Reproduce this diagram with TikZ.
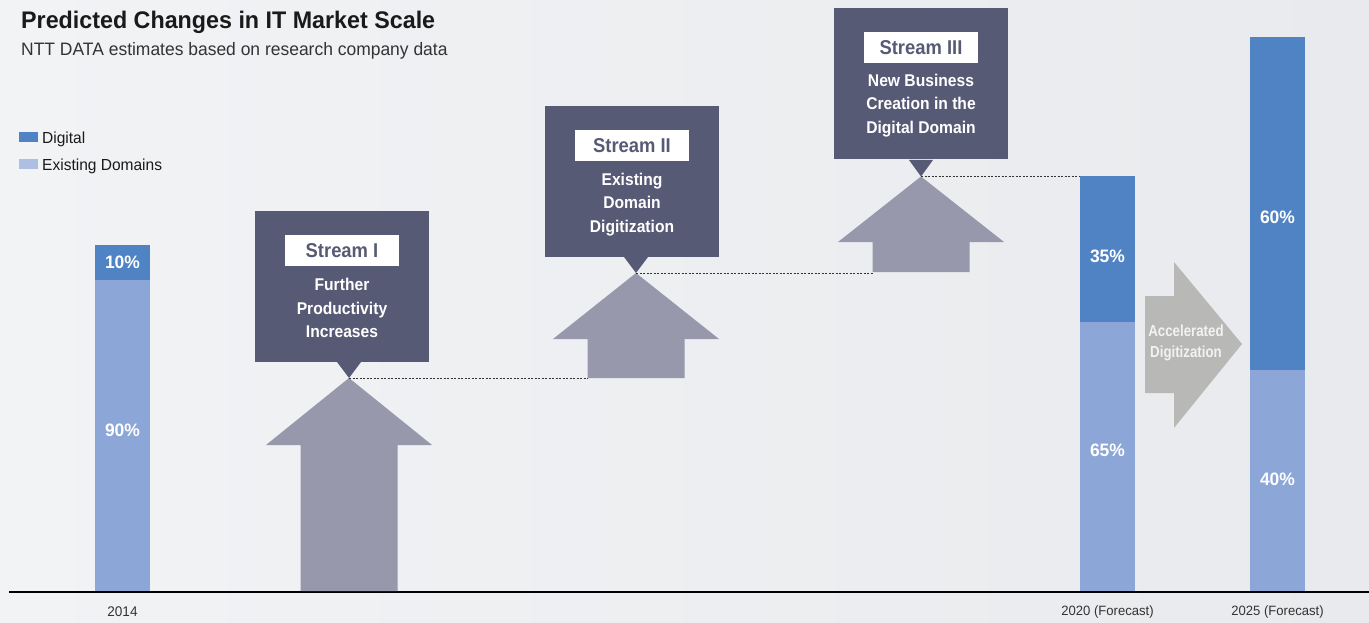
\documentclass[tikz,border=0pt]{standalone}
\usepackage{fontspec}
\setmainfont{Liberation Sans}[FakeStretch=0.97]
\newfontfamily\condfont{Liberation Sans}[FakeStretch=0.92]
\newfontfamily\narrowfont{Liberation Sans}[FakeStretch=0.83]
\definecolor{digital}{HTML}{4F83C4}
\definecolor{existing}{HTML}{8CA6D7}
\definecolor{existinglegend}{HTML}{AEBFE3}
\definecolor{boxcol}{HTML}{575A75}
\definecolor{arrowcol}{HTML}{9798AC}
\definecolor{accelcol}{HTML}{B8B9B7}
\definecolor{bgL}{HTML}{F1F3F5}
\definecolor{bgR}{HTML}{E8EAED}
\definecolor{titlecol}{HTML}{1A1A1A}
\definecolor{subcol}{HTML}{333333}
\begin{document}
\begin{tikzpicture}[x=1pt,y=-1pt,
  bar/.style={inner sep=0pt, outer sep=0pt, minimum width=55pt, anchor=north west},
  dig/.style={bar, fill=digital},
  old/.style={bar, fill=existing},
  pct/.style={text=white, inner sep=0pt, font=\bfseries\fontsize{18}{20}\selectfont},
  callout/.style={fill=boxcol, inner sep=0pt, outer sep=0pt, minimum width=174pt, minimum height=151pt, anchor=north west},
  tag/.style={fill=white, text=boxcol, inner sep=0pt, minimum width=114pt, minimum height=31pt, font=\condfont\bfseries\fontsize{20}{22}\selectfont},
  desc/.style={text=white, align=center, inner sep=0pt, font=\condfont\bfseries\fontsize{17}{23.5}\selectfont},
  growth/.style={fill=arrowcol},
  guide/.style={draw=black!80, line width=0.9pt, dash pattern=on 2pt off 1.5pt},
  year/.style={text=subcol, inner sep=0pt, font=\fontsize{14}{16}\selectfont},
  swatch/.style={inner sep=0pt, minimum width=19pt, minimum height=10pt},
  legtext/.style={text=titlecol, inner sep=0pt, anchor=base west, font=\fontsize{16}{18}\selectfont}
]
\useasboundingbox (0,0) rectangle (1369,623);
% background
\shade[left color=bgL, right color=bgR] (0,0) rectangle (1369,623);

% title block
\node[anchor=base west, inner sep=0pt, text=titlecol, font=\bfseries\fontsize{24}{28}\selectfont] (title) at (21,28.5) {Predicted Changes in IT Market Scale};
\node[anchor=base west, inner sep=0pt, text=subcol, font=\fontsize{18}{20}\selectfont] (subtitle) at (21,56) {NTT DATA estimates based on research company data};

% legend
\node[swatch, fill=digital] (lgd) at (28.5,137.5) {};
\node[legtext] (lgdt) at (42,144) {Digital};
\node[swatch, fill=existinglegend] (lge) at (28.5,164.5) {};
\node[legtext] (lget) at (42,171) {Existing Domains};

% stacked bars
\node[dig, minimum height=35pt] (b14d) at (95,245) {};
\node[old, minimum height=311pt] (b14e) at (95,280) {};
\node[dig, minimum height=146pt] (b20d) at (1080,176) {};
\node[old, minimum height=269pt] (b20e) at (1080,322) {};
\node[dig, minimum height=333pt] (b25d) at (1250,37) {};
\node[old, minimum height=221pt] (b25e) at (1250,370) {};

\node[pct] (p14d) at (122.5,262.5) {10\%};
\node[pct] (p14e) at (122.5,430) {90\%};
\node[pct] (p20d) at (1107.5,256.5) {35\%};
\node[pct] (p20e) at (1107.5,450) {65\%};
\node[pct] (p25d) at (1277.5,217) {60\%};
\node[pct] (p25e) at (1277.5,479) {40\%};

% axis and year labels
\coordinate (axL) at (9,592);
\coordinate (axR) at (1369,592);
\draw[line width=1.5pt, black] (axL) -- (axR);
\node[year] (y14) at ([yshift=-21pt]b14e.south) {2014};
\node[year, font=\fontsize{13.5}{16}\selectfont] (y20) at ([yshift=-21pt]b20e.south) {2020 (Forecast)};
\node[year, font=\fontsize{13.5}{16}\selectfont] (y25) at ([yshift=-21pt]b25e.south) {2025 (Forecast)};

% growth arrows
\coordinate (t1) at (349,378);
\coordinate (t2) at (636,273);
\coordinate (t3) at (921,176.5);
\fill[growth] (t1) -- ++(-83,67) -- ++(34.5,0) -- (300.5,591) -- (397.5,591) -- (397.5,445) -- (432,445) -- cycle;
\fill[growth] (t2) -- ++(-83,66) -- ++(34.5,0) -- (587.5,378) -- (684.5,378) -- (684.5,339) -- (719,339) -- cycle;
\fill[growth] (t3) -- ++(-83,65.5) -- ++(34.5,0) -- (872.5,272) -- (969.5,272) -- (969.5,242) -- (1004,242) -- cycle;
\coordinate (s2foot) at (587.5,378);
\coordinate (s3foot) at (872.5,273);

% dotted guides
\draw[guide] (t1) -- (s2foot);
\draw[guide] (t2) -- (s3foot);
\draw[guide] (t3) -- (t3 -| b20d.west);

% stream call-outs
\node[callout] (s1) at (255,211) {};
\fill[boxcol] (t1) -- ++(-12,-16) -- ++(24,0) -- cycle;
\node[tag] (s1t) at ([yshift=-39.5pt]s1.north) {Stream I};
\node[desc] (s1d) at ([yshift=-97pt]s1.north) {Further\\Productivity\\Increases};

\node[callout] (s2) at (545,106) {};
\fill[boxcol] (t2) -- ++(-12,-16) -- ++(24,0) -- cycle;
\node[tag] (s2t) at ([yshift=-39.5pt]s2.north) {Stream II};
\node[desc] (s2d) at ([yshift=-98.5pt]s2.north) {Existing\\Domain\\Digitization};

\node[callout] (s3) at (834,8) {};
\fill[boxcol] (t3) -- ++(-12,-16.5) -- ++(24,0) -- cycle;
\node[tag] (s3t) at ([yshift=-39.5pt]s3.north) {Stream III};
\node[desc] (s3d) at ([yshift=-97.5pt]s3.north) {New Business\\Creation in the\\Digital Domain};

% accelerated digitization arrow
\fill[accelcol] (1145,296) -- (1174,296) -- (1174,262) -- (1242,344) -- (1174,428) -- (1174,393) -- (1145,393) -- cycle;
\node[text=white!95!black, align=center, inner sep=0pt, font=\narrowfont\bfseries\fontsize{16}{21}\selectfont] (accel) at (1186,342.5) {Accelerated\\Digitization};
\end{tikzpicture}
\end{document}
